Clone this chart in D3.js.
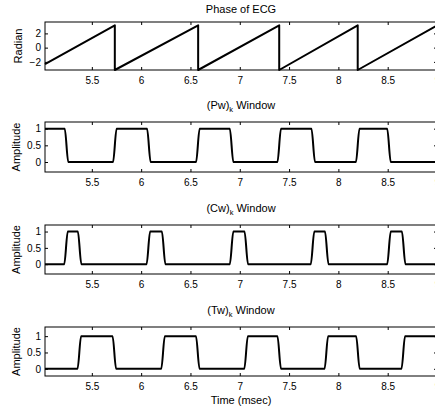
<!DOCTYPE html>
<html><head><meta charset="utf-8">
<script src="https://cdn.jsdelivr.net/npm/d3@7"></script>
<style>
body{margin:0;background:#fff}
text{font-family:"Liberation Sans",Arial,Helvetica,sans-serif;fill:#000}
</style>
</head><body>
<svg id="c" width="435" height="410"></svg>
<script>
// ---- data ----
const xTicks = [5.5, 6, 6.5, 7, 7.5, 8, 8.5, 9];
const xDomain = [5.025, 9.0];
const phaseTicks = [-2, 0, 2];
const ampTicks = [0, 0.5, 1];

// phase sawtooth vertices (time, radian)
const phaseT = [5.025, 5.733, 5.733, 6.578, 6.578, 7.400, 7.400, 8.196, 8.196, 9.006];
const phaseV = [-2.30, 3.14, -3.14, 3.14, -3.14, 3.14, -3.14, 3.14, -3.14, 3.14];

// window edges (times of transitions)
const pwStart = 1;
const pwEdges = [5.243, 5.733, 6.078, 6.575, 6.917, 7.400, 7.745, 8.196, 8.513];
const cwStart = 0;
const cwEdges = [5.238, 5.376, 6.073, 6.228, 6.917, 7.066, 7.738, 7.882, 8.513, 8.662];
const twStart = 0;
const twEdges = [5.373, 5.728, 6.222, 6.574, 7.064, 7.400, 7.878, 8.198, 8.658];

const titles = ["Phase of ECG", ["(Pw)", "k", " Window"], ["(Cw)", "k", " Window"], ["(Tw)", "k", " Window"]];
const yLabels = ["Radian", "Amplitude", "Amplitude", "Amplitude"];

// ---- layout ----
const svg = d3.select("#c");
const L = 45, R = 437;
const x = d3.scaleLinear().domain(xDomain).range([L, R]);
const fmt = d3.format("~g");
const hw = 0.018;

function windowPts(start, edges) {
  const pts = [];
  let lvl = start;
  pts.push([xDomain[0], lvl]);
  edges.forEach(t => {
    pts.push([t - hw, lvl]);
    lvl = 1 - lvl;
    pts.push([t + hw, lvl]);
  });
  pts.push([xDomain[1] + 0.05, lvl]);
  return pts;
}

const panels = [
  {top: 22, bottom: 70, ylim: [-3.14, 3.6], ticks: phaseTicks,
   pts: phaseT.map((t, i) => [t, phaseV[i]]), curve: d3.curveLinear, ylx: 22},
  {top: 122, bottom: 172, ylim: [-0.3, 1.2], ticks: ampTicks,
   pts: windowPts(pwStart, pwEdges), curve: d3.curveMonotoneX, ylx: 20},
  {top: 225, bottom: 274, ylim: [-0.3, 1.2], ticks: ampTicks,
   pts: windowPts(cwStart, cwEdges), curve: d3.curveMonotoneX, ylx: 20},
  {top: 327, bottom: 376, ylim: [-0.22, 1.28], ticks: ampTicks,
   pts: windowPts(twStart, twEdges), curve: d3.curveMonotoneX, ylx: 20}
];

panels.forEach((p, i) => {
  const y = d3.scaleLinear().domain(p.ylim).range([p.bottom, p.top]);
  const g = svg.append("g");

  // data line
  g.append("path")
    .datum(p.pts)
    .attr("fill", "none")
    .attr("stroke", "#000")
    .attr("stroke-width", 2)
    .attr("stroke-linejoin", "round")
    .attr("d", d3.line().x(d => x(d[0])).y(d => y(d[1])).curve(p.curve));

  // axes
  const ax = g.append("g").attr("transform", `translate(0,${p.bottom})`)
    .call(d3.axisBottom(x).tickValues(xTicks).tickFormat(fmt).tickSizeInner(-3).tickSizeOuter(0).tickPadding(7));
  const axT = g.append("g").attr("transform", `translate(0,${p.top})`)
    .call(d3.axisTop(x).tickValues(xTicks).tickFormat("").tickSizeInner(-3).tickSizeOuter(0));
  const ay = g.append("g").attr("transform", `translate(${L},0)`)
    .call(d3.axisLeft(y).tickValues(p.ticks).tickFormat(fmt).tickSizeInner(-3).tickSizeOuter(0).tickPadding(4));
  const ayR = g.append("g").attr("transform", `translate(${R},0)`)
    .call(d3.axisRight(y).tickValues(p.ticks).tickFormat("").tickSizeInner(-3).tickSizeOuter(0));
  [ax, axT, ay, ayR].forEach(a => {
    a.select(".domain").remove();
    a.selectAll("line").attr("stroke", "#000");
    a.selectAll("text").attr("font-size", 10).attr("font-family", '"Liberation Sans",Arial,sans-serif').attr("fill", "#000");
  });

  // box
  g.append("rect")
    .attr("x", L).attr("y", p.top)
    .attr("width", R - L).attr("height", p.bottom - p.top)
    .attr("fill", "none").attr("stroke", "#000").attr("stroke-width", 1);

  // title
  const t = titles[i];
  const cx = (L + R) / 2;
  if (typeof t === "string") {
    g.append("text").attr("x", cx).attr("y", p.top - 9).attr("text-anchor", "middle")
      .attr("font-size", 11).text(t);
  } else {
    const tt = g.append("text").attr("x", cx).attr("y", p.top - 13).attr("text-anchor", "middle")
      .attr("font-size", 11);
    tt.append("tspan").text(t[0]);
    tt.append("tspan").attr("font-size", 7.5).attr("dy", 3).text(t[1]);
    tt.append("tspan").attr("dy", -3).text(t[2]);
  }

  // y label
  g.append("text")
    .attr("transform", `translate(${p.ylx},${(p.top + p.bottom) / 2}) rotate(-90)`)
    .attr("text-anchor", "middle").attr("font-size", 11).text(yLabels[i]);
});

svg.append("text").attr("x", (L + R) / 2).attr("y", 403.5).attr("text-anchor", "middle")
  .attr("font-size", 11).text("Time (msec)");
</script>
</body></html>
